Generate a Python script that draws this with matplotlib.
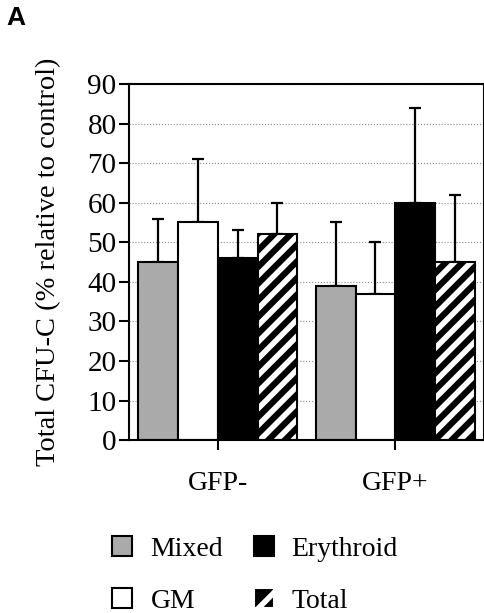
import numpy as np
import matplotlib.pyplot as plt
from matplotlib.patches import Patch

plt.rcParams['font.family'] = ['Liberation Serif', 'DejaVu Serif']
plt.rcParams['hatch.linewidth'] = 4.0

# Data
groups = ['GFP-', 'GFP+']
series = ['Mixed', 'GM', 'Erythroid', 'Total']
mixed = [45, 39]
gm = [55, 37]
erythroid = [46, 60]
total = [52, 45]
mixed_err = [11, 16]
gm_err = [16, 13]
erythroid_err = [7, 24]
total_err = [8, 17]

values = [mixed, gm, erythroid, total]
errors = [mixed_err, gm_err, erythroid_err, total_err]
faces = ['#aaaaaa', 'white', 'black', 'black']

fig = plt.figure(figsize=(4.85, 6.13), dpi=100)
ax = fig.add_axes([0.266, 0.282, 0.732, 0.581])

x = np.arange(len(groups))
width = 0.224
for i, (vals, errs, fc) in enumerate(zip(values, errors, faces)):
    pos = x + (i - 1.5) * width
    if series[i] == 'Total':
        # white stripes on black, then a black outline on top
        ax.bar(pos, vals, width, color='black', edgecolor='white', hatch='//',
               linewidth=0, zorder=2)
        ax.bar(pos, vals, width, fill=False, edgecolor='black', linewidth=1.5, zorder=3)
    else:
        ax.bar(pos, vals, width, color=fc, edgecolor='black', linewidth=1.5, zorder=2)
    ax.errorbar(pos, vals, yerr=[np.zeros(len(errs)), errs], fmt='none',
                ecolor='black', elinewidth=1.6, capsize=4.5, capthick=1.6, zorder=1)

ax.set_xlim(-0.5, 1.5)
ax.set_ylim(0, 90)
ax.set_yticks(range(0, 91, 10))
ax.set_xticks(x)
ax.set_xticklabels(groups, fontsize=20)
ax.tick_params(axis='y', labelsize=21, length=7, width=1.5, direction='out', pad=2)
ax.tick_params(axis='x', length=7, width=1.5, direction='out', pad=15)
ax.yaxis.grid(True, linestyle=':', color='#888888', linewidth=0.8, zorder=0)
ax.set_axisbelow(True)
for s in ax.spines.values():
    s.set_linewidth(1.5)

ax.set_ylabel('Total CFU-C (% relative to control)', fontsize=20.5)
ax.yaxis.set_label_coords(-0.19, 0.5)

fig.text(0.014, 0.99, 'A', fontsize=19, fontweight='bold', family='Liberation Sans',
         va='top', ha='left')

handles = [
    Patch(facecolor='#aaaaaa', edgecolor='black', linewidth=1.5, label='Mixed'),
    Patch(facecolor='white', edgecolor='black', linewidth=1.5, label='GM'),
    Patch(facecolor='black', edgecolor='black', linewidth=1.5, label='Erythroid'),
    Patch(facecolor='black', edgecolor='white', hatch='/', linewidth=1.5, label='Total'),
]
fig.legend(handles=handles, ncol=2, loc='center', bbox_to_anchor=(0.526, 0.062),
           frameon=False, fontsize=20, handlelength=0.72, handleheight=0.72,
           handletextpad=0.65, columnspacing=1.1, labelspacing=0.95)

fig.savefig('out.png', dpi=100)
